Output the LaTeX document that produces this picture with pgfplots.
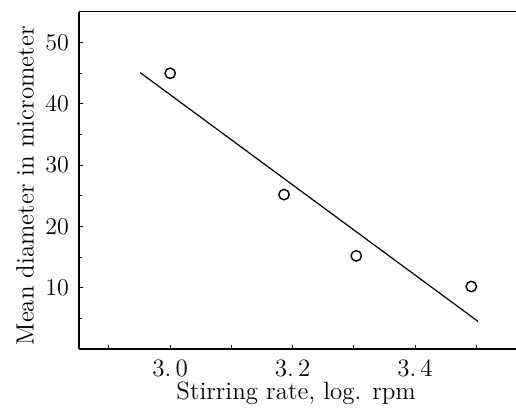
\documentclass[border=0pt]{standalone}
\usepackage{pgfplots}
\pgfplotsset{compat=1.18}
\begin{document}
\begin{tikzpicture}
\begin{axis}[
  scale only axis,
  width=218.5pt, height=168.5pt,
  xmin=2.851, xmax=3.565,
  ymin=0, ymax=55,
  axis x line*=bottom, axis y line*=left,
  xtick={2.9,3.0,3.1,3.2,3.3,3.4,3.5},
  xticklabels={,3.\,0,,3.\,2,,3.\,4,},
  ytick={10,20,30,40,50},
  minor ytick={5,15,25,35,45},
  tick align=inside,
  major tick length=2.2pt,
  minor tick length=1.6pt,
  tick style={black, line width=0.5pt},
  axis line style={line width=0.7pt, -},
  font=\fontsize{12.5}{14}\selectfont,
  xticklabel style={yshift=-2pt},
  yticklabel style={xshift=-1.5pt},
  xlabel={Stirring rate, log. rpm},
  ylabel={Mean diameter in micrometer},
  every axis x label/.style={at={(axis description cs:0.497,0)}, anchor=base, yshift=-25.5pt},
  every axis y label/.style={at={(axis description cs:-0.1236,0.484)}, rotate=90, anchor=center},
]
\addplot[black, line width=0.6pt] coordinates {(2.951,45.1) (3.503,4.5)};
\addplot[only marks, mark=o, mark size=2.6pt, mark options={line width=0.7pt}, black] coordinates {
(3.0,45.0) (3.186,25.2) (3.304,15.2) (3.492,10.2)};
\end{axis}
\draw[line width=0.5pt] (current axis.north west) -- (current axis.north east);
\pgfresetboundingbox
\path[use as bounding box] ([xshift=-39.5pt,yshift=-29.5pt]current axis.south west) rectangle ([yshift=6pt]current axis.north east);
\end{tikzpicture}
\end{document}
